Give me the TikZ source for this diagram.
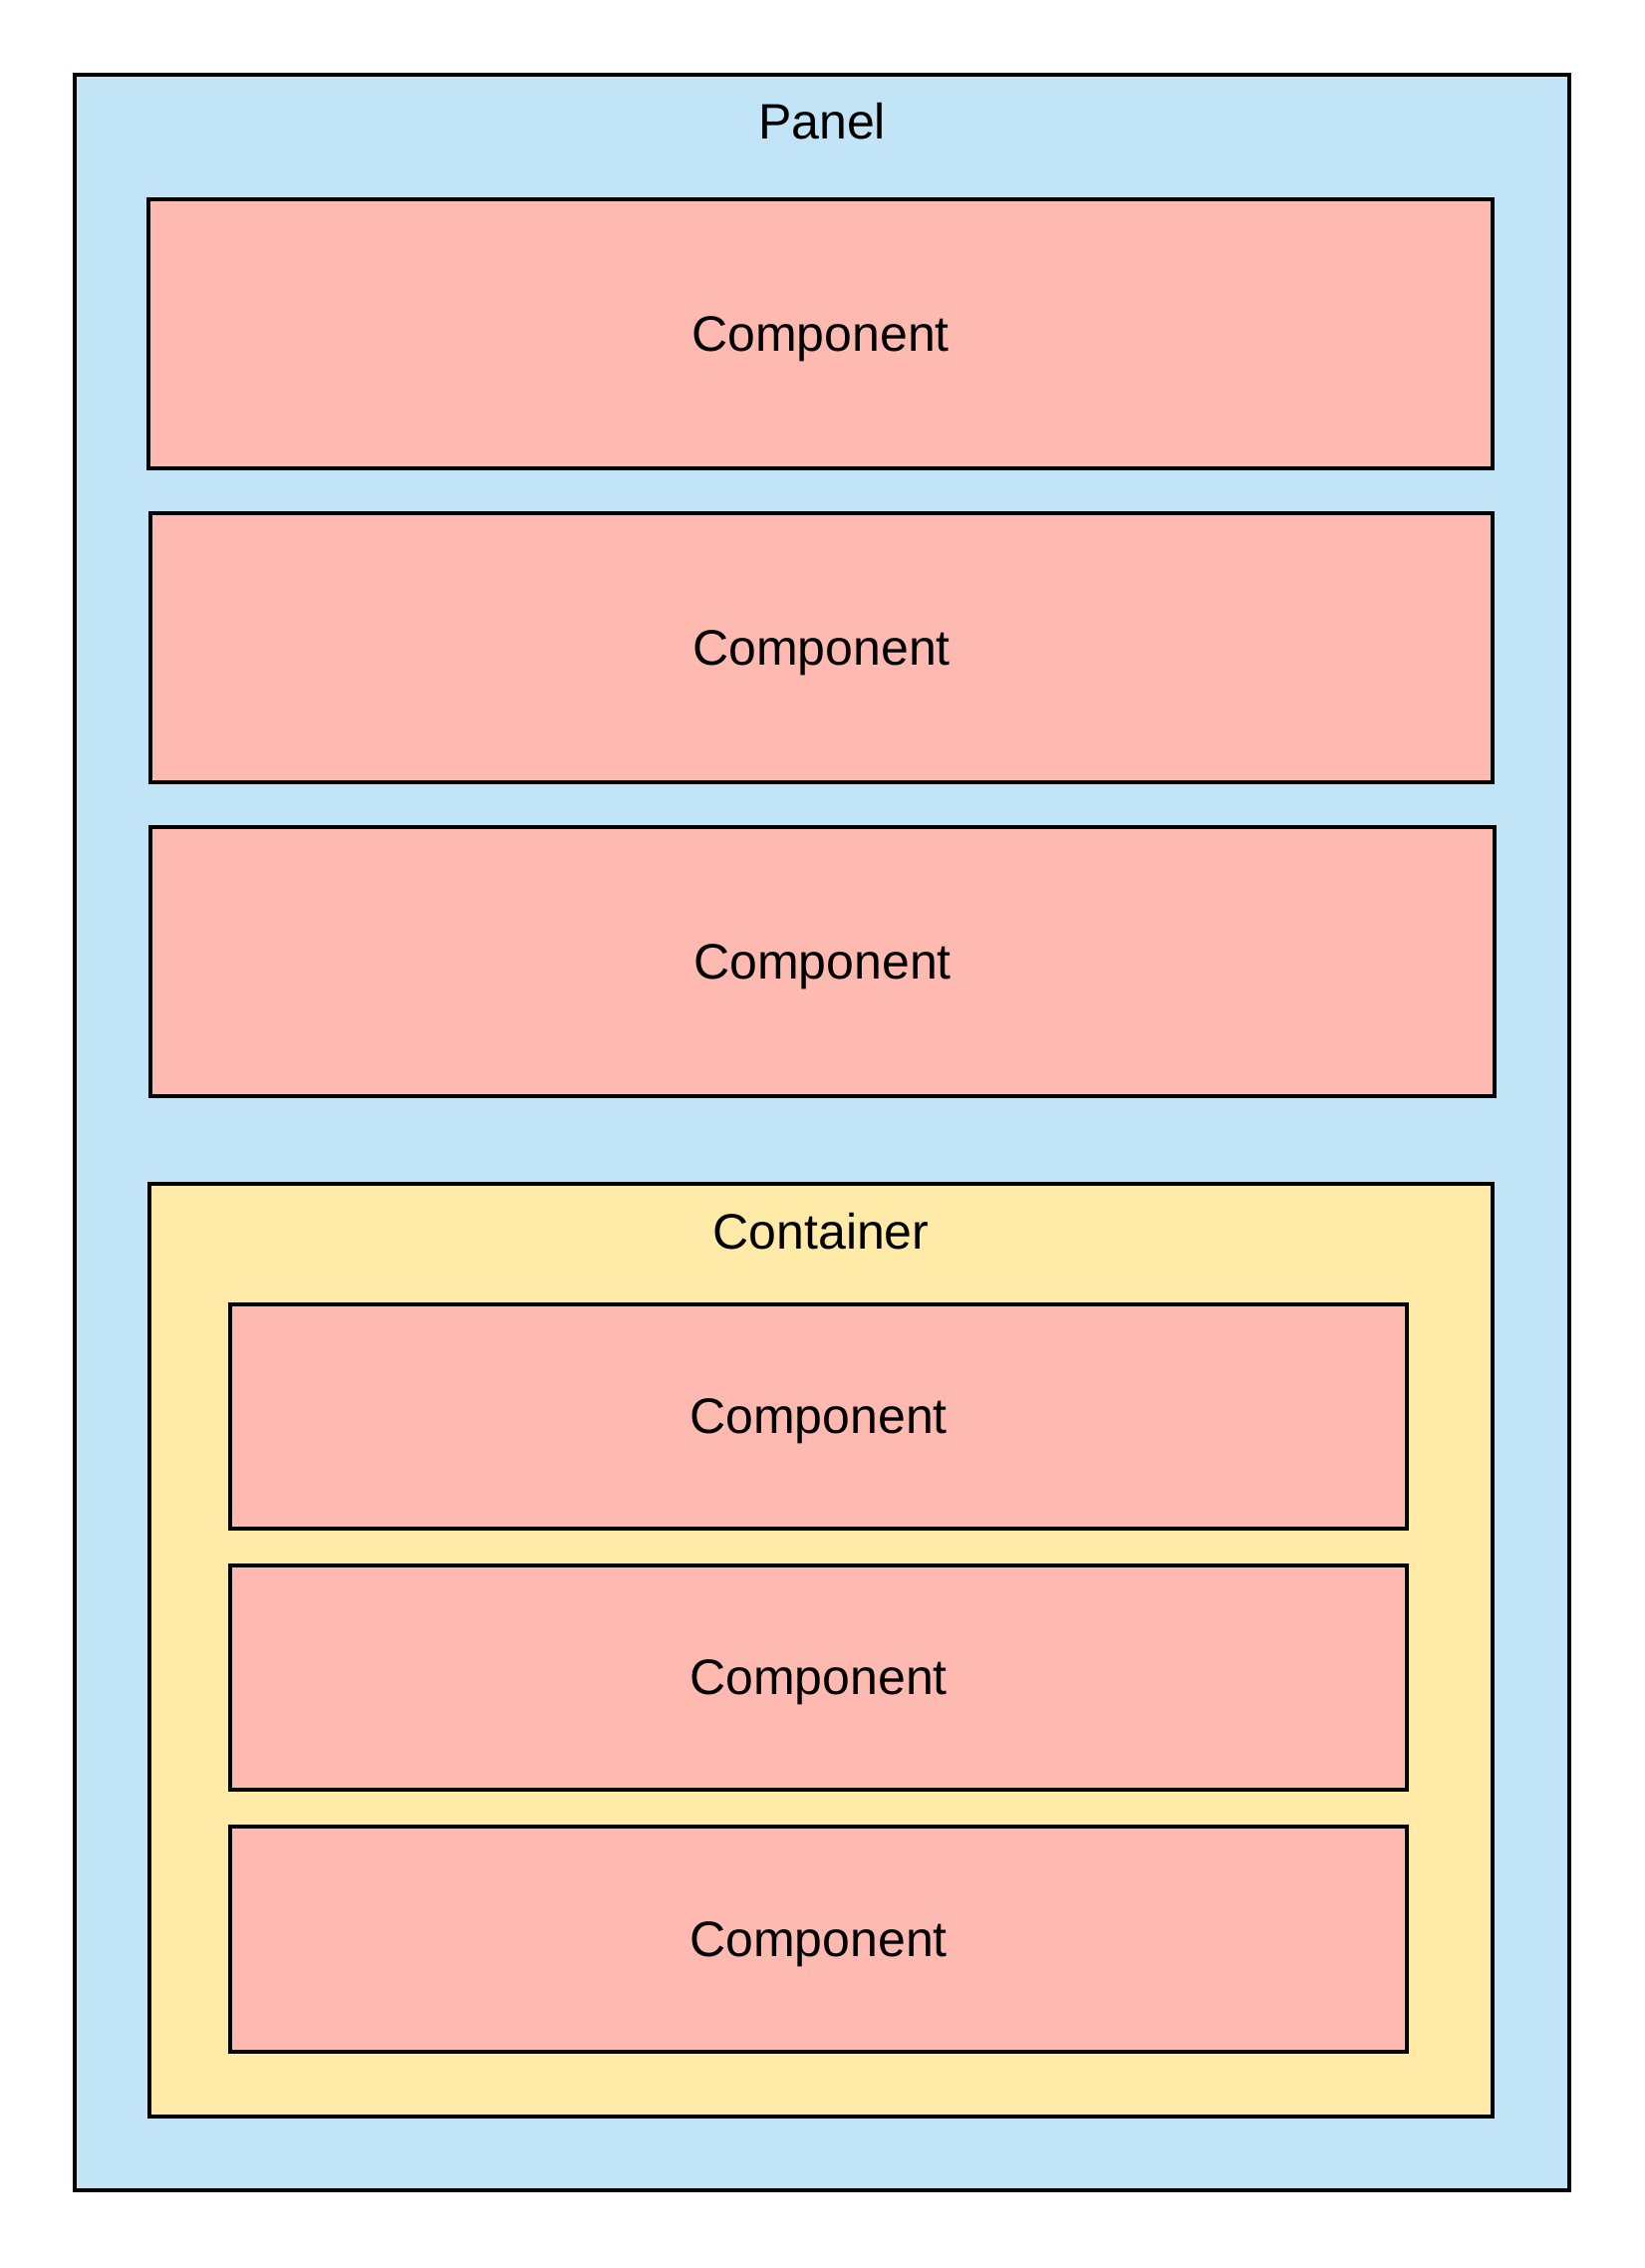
\documentclass[tikz,border=0pt]{standalone}
\usepackage{fontspec}
\setmainfont{Liberation Sans}
\definecolor{panelblue}{RGB}{193,228,246}
\definecolor{comppink}{RGB}{254,185,177}
\definecolor{contyellow}{RGB}{255,234,168}
\begin{document}
\begin{tikzpicture}[x=1pt,y=-1pt,
  box/.style={draw=black, line width=3.6pt, inner sep=0pt, outer sep=0pt, text depth=0pt, font=\fontsize{50}{60}\selectfont},
  comp/.style={box, fill=comppink},
  lbl/.style={inner sep=0pt, font=\fontsize{50}{60}\selectfont}]
\useasboundingbox[fill=white] (0,0) rectangle (1650,2276);
\node[box, fill=panelblue, minimum width=1500pt, minimum height=2123pt] (panel) at (825,1136.5) {};
\node[lbl, anchor=base] (paneltitle) at (825,139) {Panel};
\node[comp, minimum width=1349pt, minimum height=270pt] (c1) at (823.5,335) {Component};
\node[comp, minimum width=1347pt, minimum height=270pt] (c2) at (824.5,650) {Component};
\node[comp, minimum width=1349pt, minimum height=270pt] (c3) at (825.5,965) {Component};
\node[box, fill=contyellow, minimum width=1348pt, minimum height=936pt] (cont) at (824,1656) {};
\node[lbl, anchor=base] (conttitle) at (824,1253) {Container};
\node[comp, minimum width=1181pt, minimum height=225pt] (c4) at (821.5,1421.5) {Component};
\node[comp, minimum width=1181pt, minimum height=225pt] (c5) at (821.5,1683.5) {Component};
\node[comp, minimum width=1181pt, minimum height=226pt] (c6) at (821.5,1946) {Component};
\end{tikzpicture}
\end{document}
